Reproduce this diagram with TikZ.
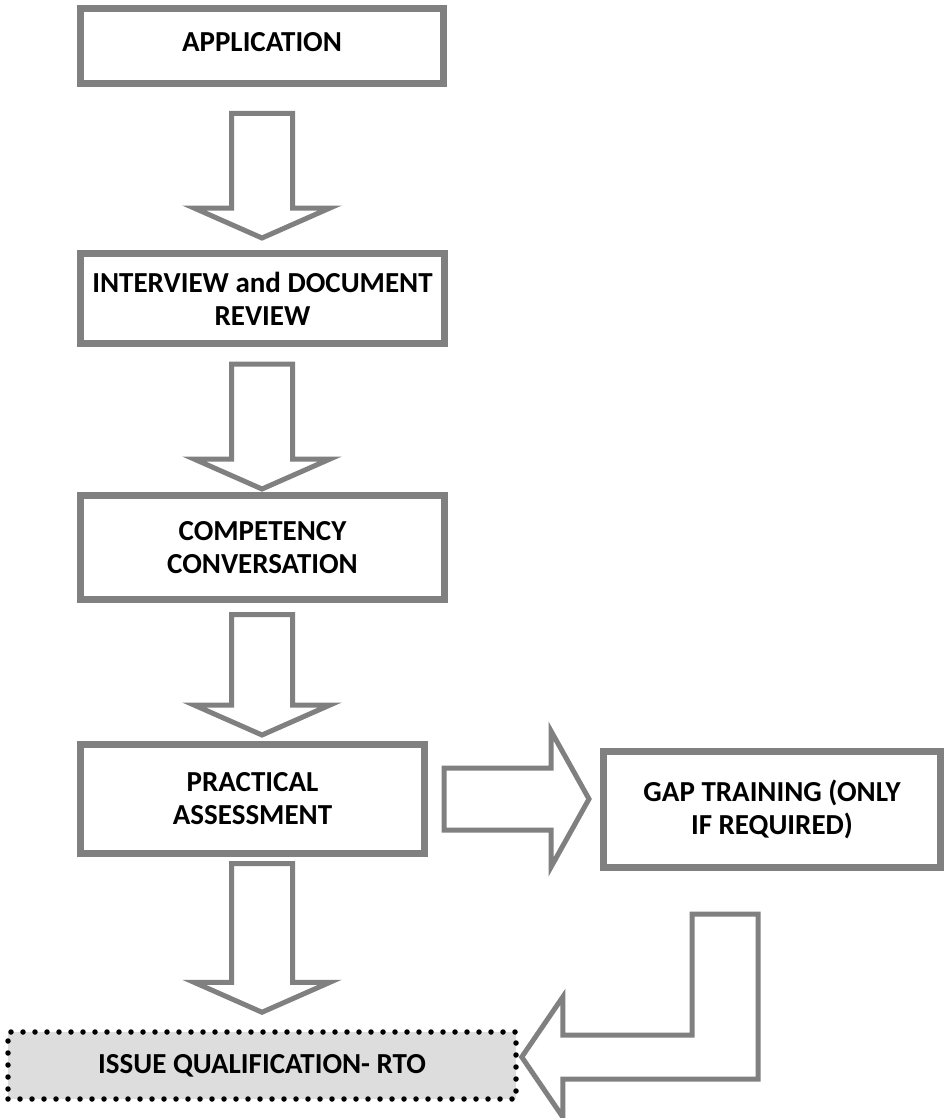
\documentclass[tikz,border=0pt]{standalone}
\usepackage{fontspec}
\setmainfont{Carlito}
\usetikzlibrary{calc}

\definecolor{boxgray}{HTML}{808080}
\definecolor{issuefill}{HTML}{DDDDDD}

\tikzset{flowbox/.style = {draw = boxgray, line width = 7pt, fill = white,
                           align = center, inner sep = 0pt,
                           font = \bfseries\fontsize{29}{33}\selectfont},
         issuebox/.style = {flowbox, draw = black, line width = 5.5pt,
                            line cap = round, dash pattern = on 0pt off 12pt,
                            fill = issuefill},
         blockarrow/.style = {draw = boxgray, line width = 5pt, fill = white,
                              line join = miter}
        }

% block arrow pointing down: from, to, gap below from, gap above to
\newcommand{\flowdown}[4]{%
  \draw[blockarrow] let \p1 = (#1.south), \p2 = (#2.north), \p3 = (spine) in
    (\x3-30.5,\y1-#3) -- (\x3+30.5,\y1-#3) -- (\x3+30.5,\y2+#4+30)
    -- (\x3+68,\y2+#4+30) -- (\x3,\y2+#4) -- (\x3-68,\y2+#4+30)
    -- (\x3-30.5,\y2+#4+30) -- cycle;}

% block arrow pointing right: from, to, gap after from, gap before to
\newcommand{\flowright}[4]{%
  \draw[blockarrow] let \p1 = (#1.east), \p2 = (#2.west) in
    (\x1+#3,\y1+31) -- (\x2-#4-38,\y1+31) -- (\x2-#4-38,\y1+68)
    -- (\x2-#4,\y1) -- (\x2-#4-38,\y1-68) -- (\x2-#4-38,\y1-31)
    -- (\x1+#3,\y1-31) -- cycle;}

\begin{document}
\begin{tikzpicture}[x=1pt, y=-1pt]
  \useasboundingbox (0,0) rectangle (947,1118);
  \coordinate (spine) at (262,0);

  \node[flowbox, minimum width=363pt, minimum height=75pt]  (app)   at (262,46)    {\raisebox{9pt}{APPLICATION}};
  \node[flowbox, minimum width=364pt, minimum height=90pt]  (inter) at (262.5,298.5) {INTERVIEW and DOCUMENT\\REVIEW};
  \node[flowbox, minimum width=364pt, minimum height=104pt] (comp)  at (262.5,547.5) {COMPETENCY\\CONVERSATION};
  \node[flowbox, minimum width=344pt, minimum height=109pt] (pract) at (252.5,799)  {PRACTICAL\\ASSESSMENT};
  \node[flowbox, minimum width=337pt, minimum height=116pt] (gap)   at (772,809.5) {GAP TRAINING (ONLY\\IF REQUIRED)};
  \node[issuebox, minimum width=508pt, minimum height=67pt] (issue) at (262,1065.5) {ISSUE QUALIFICATION- RTO};

  \flowdown{app}{inter}{26.5}{12}
  \flowdown{inter}{comp}{17}{3}
  \flowdown{comp}{pract}{11.5}{6}
  \flowdown{pract}{issue}{6.5}{17}
  \flowright{pract}{gap}{16}{11}

  % bent arrow back to the issue box
  \draw[blockarrow] let \p1 = (gap.south), \p2 = (issue.east) in
    (\x1-80,\y1-43) -- (\x1-14,\y1-43) -- (\x1-14,\y2+8.5-22)
    -- (\x2+44,\y2+8.5-22) -- (\x2+44,\y2+8.5-60) -- (\x2+3,\y2+8.5)
    -- (\x2+44,\y2+8.5+60) -- (\x2+44,\y2+8.5+22) -- (\x1-80,\y2+8.5+22) -- cycle;
\end{tikzpicture}
\end{document}
